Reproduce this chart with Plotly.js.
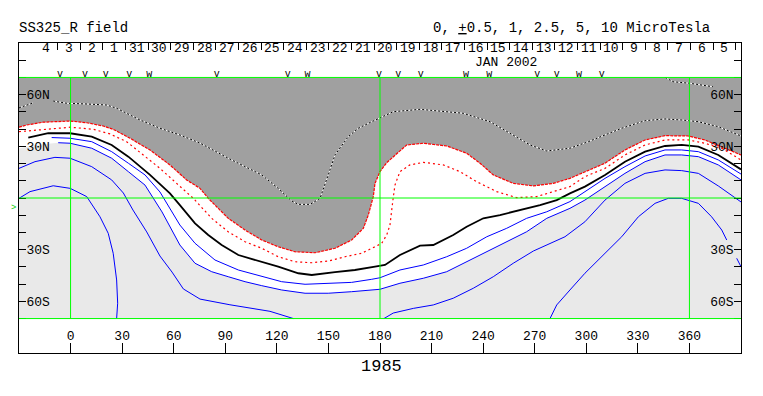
<!DOCTYPE html>
<html><head><meta charset="utf-8">
<script src="https://cdn.plot.ly/plotly-3.0.1.min.js"></script>
<style>html,body{margin:0;padding:0;background:#fff}</style>
</head><body><div id="chart" style="width:763px;height:396px"></div>
<script>
// ---------- data (lon in Carrington degrees, lat in degrees) ----------
const mapLon = [-30, 390];
const mapLat = [-70, 70];

// boundary of dark-gray (positive) region, drawn red
const posEdgeLon = [-30, -25.5, -15.9, -6.2, -0.2, 9.4, 19.0, 24.8, 34.6, 46.2, 57.8, 67.5, 75.3, 80.1, 91.7, 101.5, 111.2, 120.8, 130.5, 142.2, 153.8, 163.5, 170.3, 173.2, 176.1, 177.1, 180.0, 183.9, 187.7, 195.5, 205.2, 218.8, 230.4, 238.2, 245.9, 257.5, 269.2, 280.8, 290.5, 299.2, 310.9, 322.5, 334.2, 345.8, 359.3, 369.0, 378.8, 390];
const posEdgeLat = [41.1, 42.4, 44.0, 44.7, 44.7, 43.7, 41.8, 39.9, 34.7, 27.9, 19.2, 10.5, 5.6, -0.2, -11.8, -18.6, -24.4, -28.3, -31.2, -31.8, -29.2, -24.4, -17.6, -9.9, 0.8, 8.5, 15.3, 20.5, 24.0, 30.8, 31.8, 30.2, 26.0, 20.2, 13.4, 8.5, 7.0, 8.5, 11.4, 15.3, 20.2, 27.9, 33.7, 36.2, 36.0, 33.7, 29.8, 25.0];

// inner red dotted contour
const pos1Lon = [-30, -15.9, -0.2, 13.2, 22.9, 32.6, 42.3, 52.0, 61.7, 71.4, 82.1, 91.7, 101.5, 111.2, 120.8, 130.5, 140.3, 149.9, 159.6, 169.3, 177.1, 181.0, 183.9, 185.8, 187.4, 188.7, 191.6, 197.4, 205.2, 216.8, 226.5, 236.2, 247.9, 259.5, 271.1, 280.8, 290.5, 299.2, 310.9, 322.5, 334.2, 345.8, 359.3, 369.0, 379.5, 390];
const pos1Lat = [38.5, 39.9, 41.1, 39.9, 37.2, 32.7, 25.0, 17.2, 8.5, -0.2, -11.8, -19.6, -25.4, -29.2, -34.1, -37.0, -37.6, -36.6, -34.1, -32.1, -28.3, -26.3, -21.5, -15.7, -2.1, 7.5, 15.3, 19.2, 20.7, 19.2, 15.3, 9.5, 3.7, 0.2, 0.8, 3.7, 6.6, 12.4, 17.2, 25.0, 30.8, 33.7, 33.7, 31.8, 28.5, 22.1];

// black/white dotted contour inside the gray region (null = gap)
const pos2Lon = [-30, -21.9, null, -10.1, -2.3, 9.0, 21.0, 26.8, 40.4, 52.0, 63.6, 75.3, 91.7, 111.2, 120.8, 128.6, 132.5, 139.3, 145.1, 149.9, 153.8, 161.5, 167.4, 175.2, 182.9, 187.7, 203.3, 228.4, 244.0, 257.5, 267.3, 277.0, 290.5, 301.2, 310.9, 320.6, 334.2, 345.8, 355.5, 365.2, 376.8, 390, null, 346.0, 350.4, 360.3, 373.7];
const pos2Lat = [52.3, 55.2, null, 56.3, 55.0, 54.6, 54.0, 52.1, 45.3, 40.5, 36.6, 31.9, 23.1, 13.4, 5.6, -1.7, -3.7, -3.7, -0.2, 13.4, 25.0, 35.6, 40.5, 44.3, 47.6, 50.1, 51.5, 49.2, 44.3, 36.6, 30.8, 27.3, 28.9, 32.7, 36.6, 40.5, 44.9, 45.9, 45.3, 44.3, 41.4, 36.0, null, 70.0, 67.5, 66.6, 64.6];

// neutral line (black)
const zeroLon = [-24.6, -13.0, -0.3, 12.3, 23.9, 33.6, 46.2, 57.8, 63.6, 72.4, 80.1, 87.9, 97.6, 111.2, 120.8, 132.5, 140.3, 153.8, 165.4, 177.1, 182.9, 191.6, 203.3, 211.0, 222.6, 230.4, 240.1, 249.8, 261.4, 273.1, 282.8, 290.5, 299.2, 310.9, 322.5, 334.2, 345.8, 355.5, 365.2, 376.8, 390];
const zeroLat = [35.1, 37.6, 37.6, 35.6, 30.8, 24.0, 13.4, 2.7, -4.1, -14.7, -21.5, -27.3, -33.1, -37.0, -39.9, -43.7, -44.7, -43.1, -41.8, -39.9, -38.9, -33.1, -27.7, -27.3, -21.5, -16.7, -11.8, -9.9, -7.0, -4.1, -1.2, 2.7, 6.6, 13.4, 21.1, 26.9, 30.2, 30.8, 29.8, 25.0, 16.6];

// blue (negative) contours
const neg1Lon = [-11.0, -0.3, 12.3, 23.9, 33.6, 43.3, 52.0, 63.6, 72.4, 84.0, 97.6, 111.2, 122.8, 136.4, 149.9, 163.5, 175.2, 180.0, 191.6, 205.2, 218.8, 230.4, 242.1, 253.7, 265.3, 277.0, 290.5, 299.2, 310.9, 322.5, 334.2, 345.8, 355.5, 365.2, 376.8, 390];
const neg1Lat = [35.1, 34.7, 32.7, 26.9, 20.2, 13.4, 3.5, -15.7, -26.3, -36.0, -41.8, -45.7, -48.6, -50.1, -49.5, -49.0, -47.2, -46.3, -41.8, -38.9, -34.1, -29.2, -22.5, -17.6, -11.8, -8.0, -2.1, 3.7, 11.4, 18.2, 24.4, 27.9, 27.9, 26.9, 22.1, 13.9];

const neg2Lon = [-7.2, -0.3, 12.3, 23.9, 33.6, 43.3, 53.2, 63.6, 72.4, 82.1, 91.7, 101.5, 111.2, 122.8, 136.4, 149.9, 163.5, 175.2, 180.0, 191.6, 205.2, 218.8, 230.4, 242.1, 253.7, 265.3, 277.0, 290.5, 299.2, 310.9, 322.5, 334.2, 345.8, 355.5, 365.2, 376.8, 390];
const neg2Lat = [32.1, 31.8, 28.9, 23.1, 15.3, 7.5, -8.1, -27.3, -37.9, -42.8, -45.7, -48.6, -50.9, -53.4, -55.3, -55.3, -54.4, -53.4, -53.0, -49.5, -46.6, -42.8, -37.0, -31.2, -25.4, -19.6, -11.8, -6.0, -1.2, 6.6, 14.3, 21.1, 25.0, 25.0, 24.0, 19.2, 10.5];

const neg3LeftLon = [-30, -20.7, -9.1, -0.3, 12.3, 23.9, 30.7, 36.3, 44.3, 52.0, 59.0, 65.6, 75.3, 92.7, 116.0, 129.6];
const neg3LeftLat = [17.2, 21.1, 23.6, 23.1, 18.2, 10.5, 2.9, -7.0, -19.7, -33.7, -43.0, -52.8, -58.7, -62.0, -65.8, -70.0];
const neg3RightLon = [182.3, 187.7, 199.4, 211.0, 222.6, 234.3, 245.9, 257.5, 269.2, 280.8, 287.6, 299.2, 310.9, 322.5, 334.2, 345.8, 355.5, 365.2, 376.8, 390];
const neg3RightLat = [-70.0, -66.8, -64.1, -62.1, -58.2, -52.4, -45.7, -37.9, -30.8, -25.6, -22.5, -13.8, -1.2, 8.5, 14.3, 16.3, 15.9, 14.3, 7.0, -2.3];

const neg4LeftLon = [-30, -23.6, -10.1, -0.2, 9.4, 17.1, 21.9, 24.8, 26.8, 27.4, 26.8];
const neg4LeftLat = [-0.2, 3.7, 7.1, 5.6, 0.8, -10.9, -20.5, -32.1, -47.6, -61.1, -70.0];
const neg4RightLon = [278.9, 282.8, 290.5, 299.2, 310.9, 320.6, 330.3, 340.0, 347.7, 355.5, 365.2, 372.9, 378.8, 381.7, null, 387.5, 390];
const neg4RightLat = [-70.0, -62.1, -53.4, -43.7, -32.1, -22.5, -10.9, -3.1, -0.2, -0.2, -3.1, -10.9, -18.6, -24.4, null, -35.0, -39.9];

// left stub of the light-gray (negative) region boundary, continued by neg2
const negStubLon = [-30, -20.7];
const negStubLat = [28.7, 30.8];

// axis ticks and labels
const lonTicks = [0, 30, 60, 90, 120, 150, 180, 210, 240, 270, 300, 330, 360];
const latTicks = [-80, -70, -60, -50, -40, -30, -20, -10, 0, 10, 20, 30, 40, 50, 60, 70, 80];
const latTickText = ['', '', '60S', '', '', '30S', '', '', '', '', '', '30N', '', '', '60N', '', ''];
const dayLabels = ['4','3','2','1','31','30','29','28','27','26','25','24','23','22','21','20','19','18','17','16','15','14','13','12','11','10','9','8','7','6','5'];
const dayStartLon = -20.7;   // lon of first day boundary
const dayStepLon = 13.15;    // degrees per day on this map

// markers along the top of the map
const markLon = [-6.2, 8.4, 20.4, 34.2, 45.8, 85.0, 126.3, 137.9, 179.4, 190.6, 203.7, 230.0, 243.6, 271.5, 282.8, 295.8, 309.0];
const markSym = ['v','v','v','v','w','v','v','w','v','v','v','w','w','v','v','w','v'];
const markLat = 72;
const earthLat = -6;   // green '>' on the left

const gridLons = [0, 180, 360];
const gridLats = [70, 0, -70];

// ---------- build ----------
const FONT = 'Liberation Mono, Courier New, monospace';
const dayBounds = [], dayCenters = [];
for (let i = 0; i <= dayLabels.length; i++) dayBounds.push(dayStartLon + i * dayStepLon);
for (let i = 0; i < dayLabels.length; i++) dayCenters.push(dayStartLon + (i + 0.5) * dayStepLon);

const skip = {hoverinfo: 'skip', showlegend: false};
const traces = [];
traces.push(Object.assign({type: 'scatter', mode: 'lines',
  x: [mapLon[0], mapLon[1], mapLon[1], mapLon[0]],
  y: [mapLat[0], mapLat[0], mapLat[1], mapLat[1]],
  fill: 'toself', fillcolor: '#e9e9e9', line: {width: 0}}, skip));
traces.push(Object.assign({type: 'scatter', mode: 'lines',
  x: negStubLon.concat(neg2Lon, [mapLon[1], mapLon[0]]),
  y: negStubLat.concat(neg2Lat, [mapLat[1], mapLat[1]]),
  fill: 'toself', fillcolor: '#ffffff', line: {width: 0}}, skip));
traces.push(Object.assign({type: 'scatter', mode: 'lines',
  x: posEdgeLon.concat([mapLon[1], mapLon[0]]),
  y: posEdgeLat.concat([mapLat[1], mapLat[1]]),
  fill: 'toself', fillcolor: '#a0a0a0', line: {width: 0}}, skip));

function line(x, y, color, width, dash) {
  traces.push(Object.assign({type: 'scatter', mode: 'lines', x: x, y: y,
    connectgaps: false, line: {color: color, width: width, dash: dash || 'solid'}}, skip));
}
line(pos2Lon, pos2Lat, '#ffffff', 1);
line(pos2Lon, pos2Lat, '#000000', 1, '2px,2px');
line(posEdgeLon, posEdgeLat, '#ff0000', 1.2, '3px,1px');
line(pos1Lon, pos1Lat, '#ff0000', 1.2, '2px,3px');
line(zeroLon, zeroLat, '#000000', 1.8);
line(neg1Lon, neg1Lat, '#0000ff', 1);
line(neg2Lon, neg2Lat, '#0000ff', 1);
line(neg3LeftLon, neg3LeftLat, '#0000ff', 1);
line(neg3RightLon, neg3RightLat, '#0000ff', 1);
line(neg4LeftLon, neg4LeftLat, '#0000ff', 1);
line(neg4RightLon, neg4RightLat, '#0000ff', 1);

traces.push(Object.assign({type: 'scatter', mode: 'text', x: markLon,
  y: markLon.map(() => markLat), text: markSym, textposition: 'middle center',
  textfont: {family: FONT, size: 10, color: '#000'}}, skip));

traces.push(Object.assign({type: 'scatter', mode: 'markers', x: [null], y: [null], xaxis: 'x2', yaxis: 'y'}, skip));
traces.push(Object.assign({type: 'scatter', mode: 'markers', x: [null], y: [null], xaxis: 'x', yaxis: 'y2'}, skip));

const shapes = [];
gridLats.forEach(la => shapes.push({type: 'line', xref: 'x', yref: 'y', x0: mapLon[0], x1: mapLon[1], y0: la, y1: la, line: {color: '#00ff00', width: 1}}));
gridLons.forEach(lo => shapes.push({type: 'line', xref: 'x', yref: 'y', x0: lo, x1: lo, y0: mapLat[0], y1: mapLat[1], line: {color: '#00ff00', width: 1}}));

const annotations = [
  {text: 'SS325_R field', xref: 'paper', yref: 'paper', x: -0.003, y: 1.048, xanchor: 'left', yanchor: 'middle', showarrow: false, font: {family: FONT, size: 14, color: '#000'}},
  {text: '0, <u>+</u>0.5, 1, 2.5, 5, 10 MicroTesla', xref: 'paper', yref: 'paper', x: 0.96, y: 1.048, xanchor: 'right', yanchor: 'middle', showarrow: false, font: {family: FONT, size: 14, color: '#000'}},
  {text: 'JAN 2002', xref: 'paper', yref: 'paper', x: 0.6745, y: 0.936, xanchor: 'center', yanchor: 'middle', showarrow: false, font: {family: FONT, size: 13, color: '#000'}},
  {text: '1985', xref: 'paper', yref: 'paper', x: 0.5014, y: -0.045, xanchor: 'center', yanchor: 'middle', showarrow: false, font: {family: FONT, size: 17, color: '#000'}},
  {text: '>', xref: 'x', yref: 'y', x: mapLon[0], y: earthLat, xanchor: 'right', yanchor: 'middle', xshift: -1, showarrow: false, font: {family: FONT, size: 9, color: '#00cc00'}}
];
dayLabels.forEach((d, i) => annotations.push({text: d, xref: 'x', yref: 'paper', x: dayCenters[i], y: 0.9815,
  xanchor: 'center', yanchor: 'middle', showarrow: false, borderpad: 0, font: {family: FONT, size: 13, color: '#000'}}));

const tickFont = {family: FONT, size: 13, color: '#000'};
const common = {showgrid: false, zeroline: false, fixedrange: true};
const layout = {
  width: 763, height: 396,
  margin: {l: 19, r: 22, t: 43, b: 43, pad: 0},
  paper_bgcolor: '#fff', plot_bgcolor: '#fff',
  showlegend: false,
  xaxis: Object.assign({range: mapLon.slice(), showline: true, linecolor: '#000', linewidth: 1, mirror: true,
    ticks: 'inside', ticklen: 10, tickwidth: 1, tickcolor: '#000', tickmode: 'array', tickvals: lonTicks,
    ticktext: lonTicks.map(String), ticklabelposition: 'inside', tickfont: tickFont}, common),
  yaxis: Object.assign({range: [-90, 90], showline: true, linecolor: '#000', linewidth: 1, mirror: true,
    ticks: 'inside', ticklen: 7, tickwidth: 1, tickcolor: '#000', tickmode: 'array', tickvals: latTicks,
    ticktext: latTickText, ticklabelposition: 'inside', tickfont: tickFont}, common),
  yaxis2: Object.assign({range: [-90, 90], overlaying: 'y', side: 'right', anchor: 'x', showline: false,
    ticks: 'inside', ticklen: 7, tickwidth: 1, tickcolor: '#000', tickmode: 'array', tickvals: latTicks,
    ticktext: latTickText, ticklabelposition: 'inside', tickfont: tickFont}, common),
  xaxis2: Object.assign({range: mapLon.slice(), overlaying: 'x', side: 'top', anchor: 'y', showline: false,
    ticks: 'inside', ticklen: 7, tickwidth: 1, tickcolor: '#000', tickmode: 'array', tickvals: dayBounds,
    showticklabels: false}, common),
  shapes: shapes,
  annotations: annotations
};
Plotly.newPlot('chart', traces, layout, {staticPlot: true, displayModeBar: false});
</script></body></html>
